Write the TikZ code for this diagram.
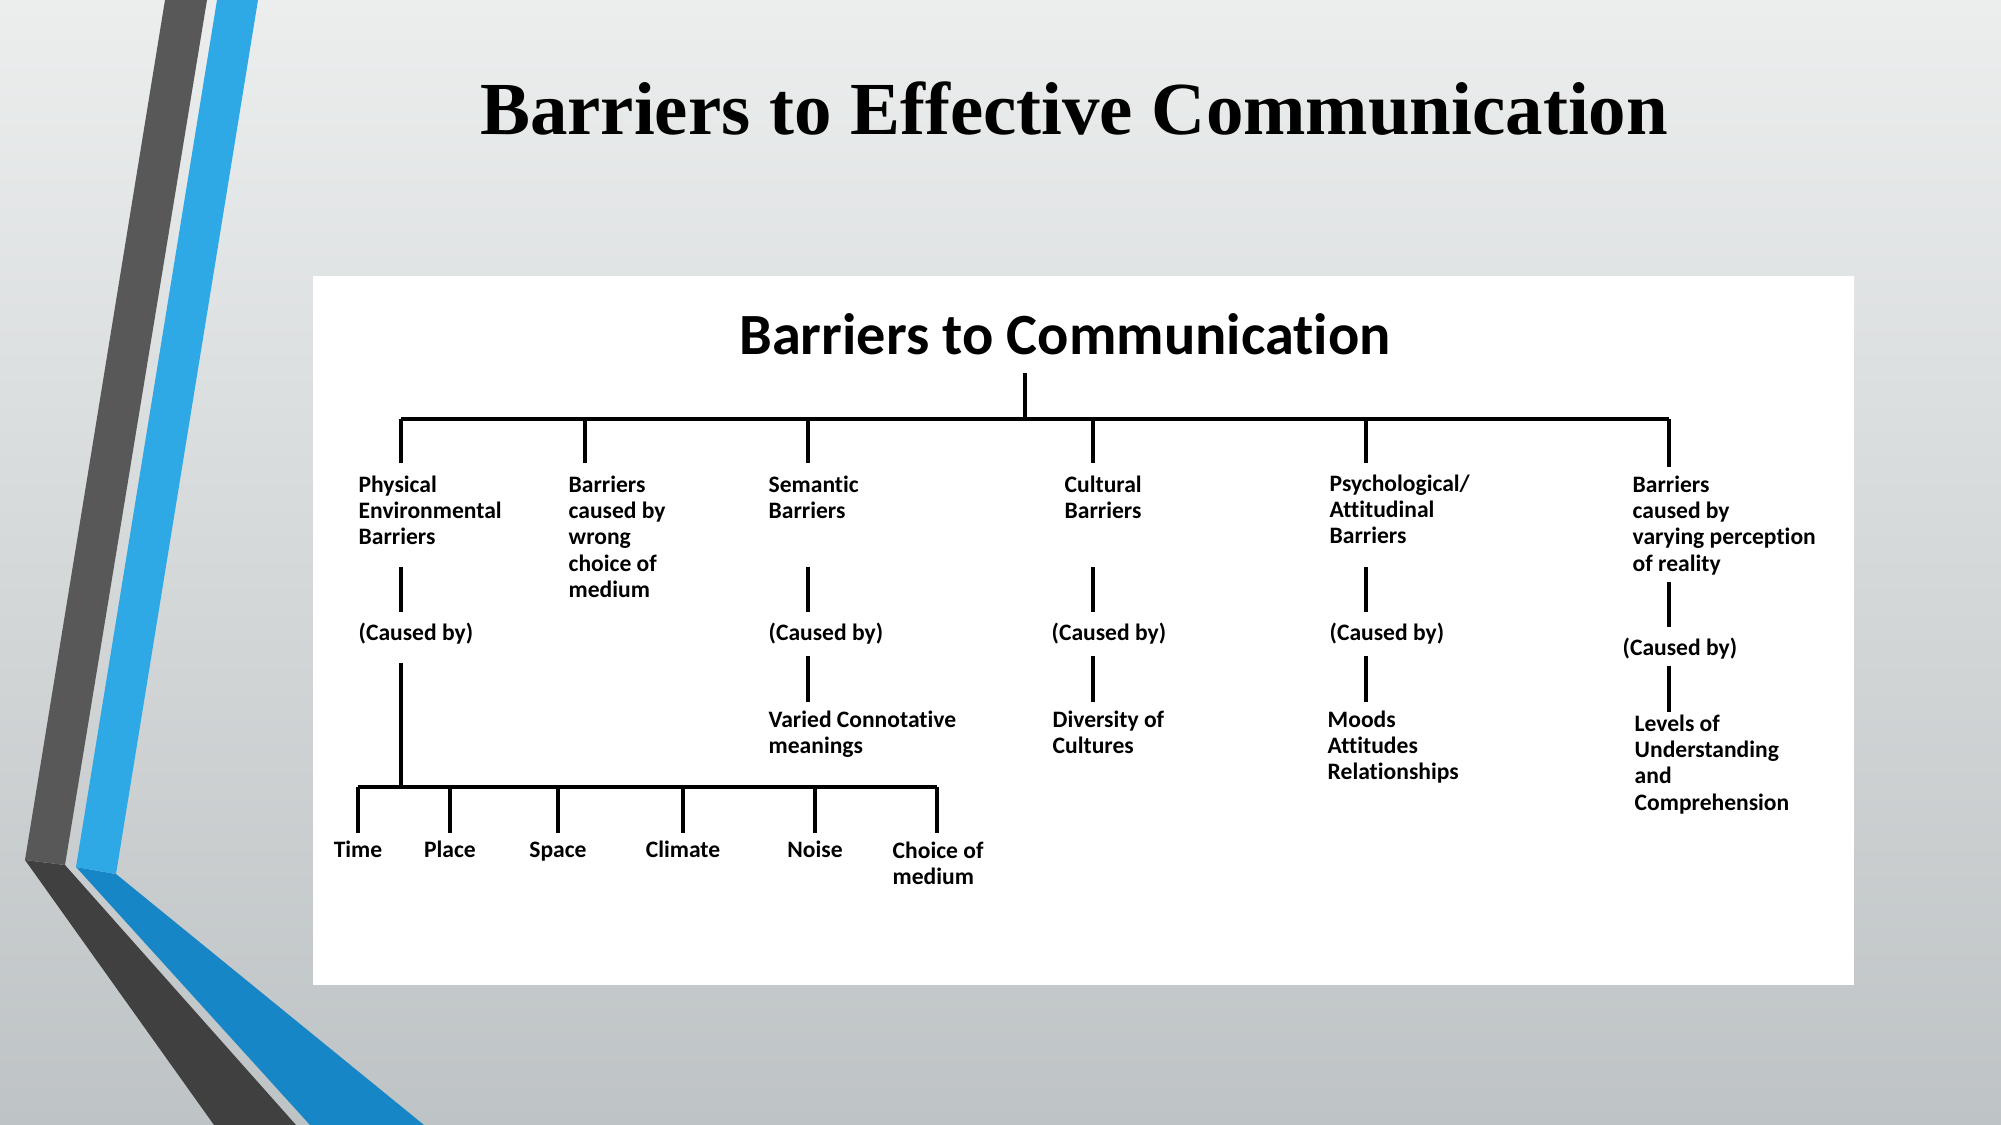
\documentclass[tikz,border=0pt]{standalone}
\usepackage{fontspec}
\setmainfont{Liberation Serif}
\newfontfamily\lblfont[Ligatures=NoCommon]{Carlito}
\usetikzlibrary{positioning,calc}

\definecolor{bgtop}{RGB}{236,238,238}
\definecolor{bgbot}{RGB}{190,195,197}
\definecolor{darkup}{RGB}{88,88,88}
\definecolor{darklow}{RGB}{64,64,64}
\definecolor{blueup}{RGB}{46,169,230}
\definecolor{bluelow}{RGB}{22,134,198}

\tikzset{
  lbl/.style={anchor=north west, inner sep=0pt, align=left, font=\lblfont\bfseries\fontsize{6.7}{7.5}\selectfont},
  leaf/.style={lbl, anchor=base},
  tline/.style={line width=0.95pt, black},
}

\begin{document}
\begin{tikzpicture}[x=0.01cm, y=-0.01cm]
\useasboundingbox (0,0) rectangle (2001,1125);
% slide background and stripes
\shade[top color=bgtop, bottom color=bgbot] (0,0) rectangle (2001,1125);
\fill[darklow] (25,860) -- (65,865) -- (296,1125) -- (214,1125) -- cycle;
\fill[darkup] (165,0) -- (207,0) -- (65,865) -- (25,860) -- cycle;
\fill[bluelow] (76,867) -- (116,874) -- (424,1125) -- (310,1125) -- cycle;
\fill[blueup] (217,0) -- (258,0) -- (116,874) -- (76,867) -- cycle;
\fill[white] (313,276) rectangle (1854,985);

\node (title) at (1074,135) [anchor=base, inner sep=0pt, font=\bfseries\fontsize{21.3}{25}\selectfont] {Barriers to Effective Communication};
\node (heading) at (1065,355) [anchor=base, inner sep=0pt, font=\lblfont\bfseries\fontsize{16.6}{19}\selectfont] {Barriers to Communication};

% first row
\node[lbl] (phys) at (358,475) {Physical\\Environmental\\Barriers};
\node[lbl] (medium) at (568,475) {Barriers\\caused by\\wrong\\choice of\\medium};
\node[lbl] (sem) at (768,475) {Semantic\\Barriers};
\node[lbl] (cult) at (1064,475) {Cultural\\Barriers};
\node[lbl] (psych) at (1329,474) {Psychological/\\Attitudinal\\Barriers};
\node[lbl] (percep) at (1632,475) {Barriers\\caused by\\varying perception\\of reality};

% caused by
\node[lbl] (cb1) at (358,622) {(Caused by)};
\node[lbl] (cb2) at (768,622) {(Caused by)};
\node[lbl] (cb3) at (1051,622) {(Caused by)};
\node[lbl] (cb4) at (1329,622) {(Caused by)};
\node[lbl] (cb5) at (1622,637) {(Caused by)};

% causes
\node[lbl] (semx) at (768,710) {Varied Connotative\\meanings};
\node[lbl] (cultx) at (1052,710) {Diversity of\\Cultures};
\node[lbl] (psychx) at (1327,710) {Moods\\Attitudes\\Relationships};
\node[lbl] (percepx) at (1634,714) {Levels of\\Understanding\\and\\Comprehension};

% tree lines
\coordinate (top) at (1025,373);
\coordinate (j1) at (401,419);
\coordinate (j2) at (585,419);
\coordinate (j3) at (808,419);
\coordinate (j4) at (1093,419);
\coordinate (j5) at (1366,419);
\coordinate (j6) at (1669,419);
\draw[tline] (top) -- (top |- j1);
\draw[tline] (j1) -- (j6);
\draw[tline] (j1) -- (j1 |- 0,463);
\draw[tline] (j2) -- (j2 |- 0,463);
\draw[tline] (j3) -- (j3 |- 0,463);
\draw[tline] (j4) -- (j4 |- 0,463);
\draw[tline] (j5) -- (j5 |- 0,463);
\draw[tline] (j6) -- (j6 |- 0,467);

\draw[tline] (j1 |- 0,567) -- (j1 |- 0,612);
\draw[tline] (j3 |- 0,567) -- (j3 |- 0,612);
\draw[tline] (j4 |- 0,567) -- (j4 |- 0,612);
\draw[tline] (j5 |- 0,567) -- (j5 |- 0,612);
\draw[tline] (j6 |- 0,582) -- (j6 |- 0,627);

\draw[tline] (j3 |- 0,656) -- (j3 |- 0,702);
\draw[tline] (j4 |- 0,656) -- (j4 |- 0,702);
\draw[tline] (j5 |- 0,656) -- (j5 |- 0,702);
\draw[tline] (j6 |- 0,666) -- (j6 |- 0,712);

% physical barriers branch
\coordinate (sub) at (401,787);
\draw[tline] (j1 |- 0,663) -- (sub);
\draw[tline] (358,787) -- (937,787);
\foreach \x/\n/\t in {358/time/Time, 450/place/Place, 558/space/Space, 683/climate/Climate, 815/noise/Noise}{
  \draw[tline] (\x,787) -- (\x,833);
  \node[leaf] (\n) at (\x,857) {\t};
}
\draw[tline] (937,787) -- (937,833);
\node[lbl] (choice) at (892,841) {Choice of\\medium};
\end{tikzpicture}
\end{document}
